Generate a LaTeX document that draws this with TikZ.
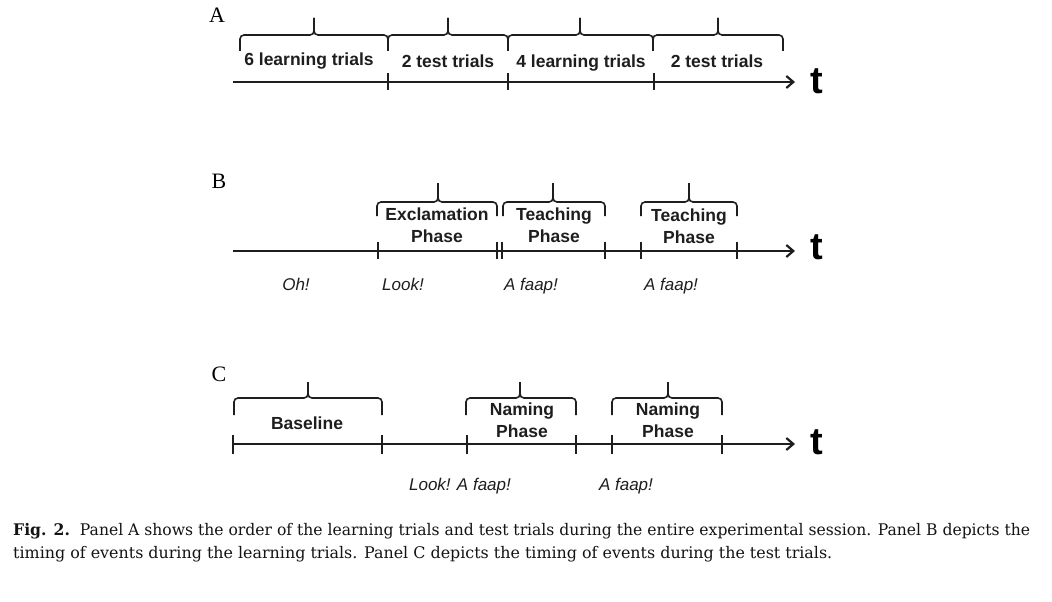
\documentclass[tikz,border=0pt]{standalone}
\usepackage{graphicx}
\usepackage{fontspec}
\setmainfont{Liberation Serif}
\newfontfamily\arial{Liberation Sans}
\newfontfamily\capfont{DejaVu Serif}
\usetikzlibrary{arrows.meta}
\definecolor{ink}{HTML}{1E1E1E}
\definecolor{captionink}{HTML}{141414}
\tikzset{
  axisline/.style={line width=2.6pt, draw=ink, -{Straight Barb[length=7pt,width=12pt,line width=2.2pt]}},
  tickmark/.style={line width=1.5pt, draw=ink},
  bracepath/.style={line width=1.6pt, draw=ink, rounded corners=4pt},
  phase/.style={font=\arial\bfseries\fontsize{17.5}{22}\selectfont, text=ink, inner sep=0pt, anchor=base},
  cue/.style={font=\arial\itshape\fontsize{17}{20}\selectfont, text=ink, inner sep=0pt, anchor=base},
  panel/.style={font=\fontsize{22}{24}\selectfont, text=black, inner sep=0pt, anchor=base},
  tlabel/.style={font=\arial\bfseries\fontsize{38}{38}\selectfont, text=black, inner sep=0pt, anchor=base},
  capline/.style={inner sep=0pt, anchor=base west, text=captionink}
}
\newcommand\tbrace[6]{%
  \draw[bracepath] (#1,#4) -- (#1,#5) -- (#3,#5) -- (#3,#6);
  \draw[bracepath] (#2,#4) -- (#2,#5) -- (#3,#5) -- (#3,#6);}
\newcommand\tmark[3]{\draw[tickmark] (#1,#2) -- (#1,#3);}
\begin{document}
\begin{tikzpicture}[x=1pt,y=-1pt]
\fill[white] (0,0) rectangle (1052,602);
\useasboundingbox (0,0) rectangle (1052,602);

% ---------------- Panel A ----------------
\node[panel] (labA) at (217,23) {A};
\coordinate (a0) at (233,82);
\coordinate (a1) at (795,82);
\draw[axisline] (a0) -- (a1);
\tmark{388}{73}{90}
\tmark{508}{73}{90}
\tmark{654}{73}{90}
\tbrace{240}{388}{314}{51}{35}{18}
\tbrace{388}{508}{448}{51}{35}{18}
\tbrace{508}{653}{580}{51}{35}{18}
\tbrace{653}{783}{718}{51}{35}{18}
\node[phase] (a6l) at (309,66) {6 learning trials};
\node[phase] (a2t) at (448,67) {2 test trials};
\node[phase] (a4l) at (581,67) {4 learning trials};
\node[phase] (a2tb) at (717,67) {2 test trials};
\node[tlabel] (tA) at (817,93) {t};

% ---------------- Panel B ----------------
\node[panel] (labB) at (219,188) {B};
\coordinate (b0) at (233,251);
\coordinate (b1) at (795,251);
\draw[axisline] (b0) -- (b1);
\tmark{378}{242}{259}
\tmark{497}{242}{259}
\tmark{502}{242}{259}
\tmark{605}{242}{259}
\tmark{641}{242}{259}
\tmark{737}{242}{259}
\tbrace{377}{497}{438}{216}{202}{183}
\tbrace{503}{605}{553}{216}{202}{183}
\tbrace{641}{737}{689}{216}{202}{183}
\node[phase] (bex1) at (437,220) {Exclamation};
\node[phase] (bex2) at (437,242) {Phase};
\node[phase] (bte1) at (554,220) {Teaching};
\node[phase] (bte2) at (554,242) {Phase};
\node[phase] (btf1) at (689,221) {Teaching};
\node[phase] (btf2) at (689,243) {Phase};
\node[cue] (bOh) at (296,290) {Oh!};
\node[cue] (bLook) at (403,290) {Look!};
\node[cue] (bfaap1) at (531,290) {A faap!};
\node[cue] (bfaap2) at (671,290) {A faap!};
\node[tlabel] (tB) at (817,259) {t};

% ---------------- Panel C ----------------
\node[panel] (labC) at (219,381) {C};
\coordinate (c0) at (233,444);
\coordinate (c1) at (795,444);
\draw[axisline] (c0) -- (c1);
\tmark{233}{435}{454}
\tmark{382}{435}{454}
\tmark{467}{435}{454}
\tmark{576}{435}{454}
\tmark{612}{435}{454}
\tmark{722}{435}{454}
\tbrace{234}{382}{308}{415}{398}{382}
\tbrace{466}{576}{520}{415}{398}{382}
\tbrace{612}{722}{668}{415}{398}{382}
\node[phase] (cbase) at (307,429) {Baseline};
\node[phase] (cna1) at (522,415) {Naming};
\node[phase] (cna2) at (522,437) {Phase};
\node[phase] (cnb1) at (668,415) {Naming};
\node[phase] (cnb2) at (668,437) {Phase};
\node[cue] (clook) at (460,490) {Look! A faap!};
\node[cue] (cfaap) at (626,490) {A faap!};
\node[tlabel] (tC) at (817,454) {t};

% ---------------- Caption ----------------
\node[capline] (cap1) at (13,535) {\resizebox{1017pt}{\height}{\capfont\fontsize{16}{20}\selectfont\textbf{Fig. 2.}\ \ Panel A shows the order of the learning trials and test trials during the entire experimental session. Panel B depicts the}};
\node[capline] (cap2) at (13,558) {\resizebox{819pt}{\height}{\capfont\fontsize{16}{20}\selectfont timing of events during the learning trials. Panel C depicts the timing of events during the test trials.}};
\end{tikzpicture}
\end{document}
